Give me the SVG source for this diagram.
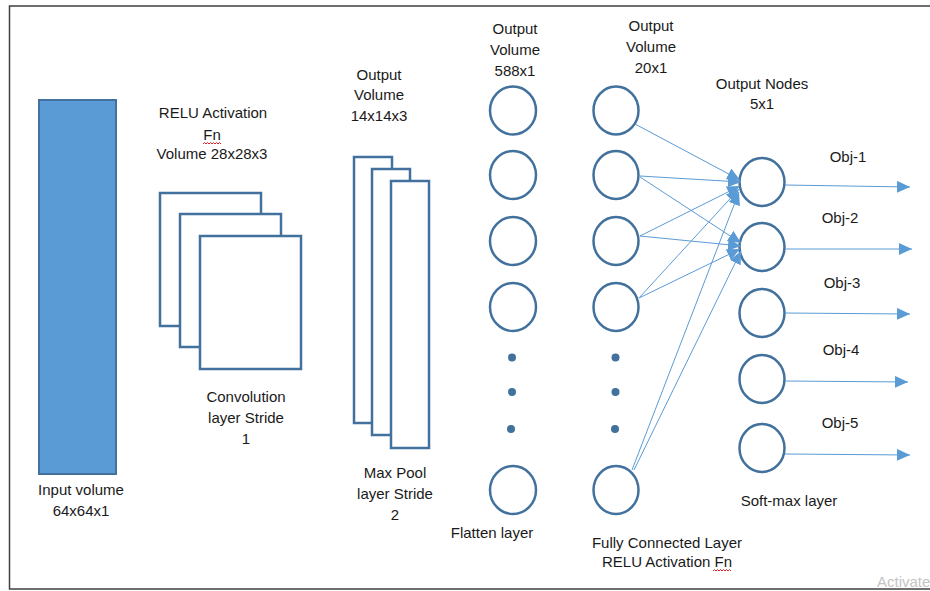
<svg xmlns="http://www.w3.org/2000/svg" width="930" height="591" viewBox="0 0 930 591">
  <style>
    .lbl { font-family: "Liberation Sans", Arial, sans-serif; font-size: 15px; fill: #1a1a1a; text-anchor: middle; }
    .sheet { fill: #ffffff; stroke: #41719c; stroke-width: 2.5; }
    .neuron { fill: #ffffff; stroke: #41719c; stroke-width: 2.5; }
    .dot { fill: #41719c; }
    .edge { stroke: #5b9bd5; stroke-width: 1; fill: none; marker-end: url(#tip); }
    .squiggle { fill: none; stroke: #e02020; stroke-width: 1; }
  </style>
  <defs>
    <marker id="tip" markerUnits="userSpaceOnUse" markerWidth="13" markerHeight="12" refX="13" refY="6" orient="auto">
      <path d="M0,0 L13,6 L0,12 z" fill="#5b9bd5"/>
    </marker>
  </defs>

  <rect width="930" height="591" fill="#ffffff"/>
  <!-- page frame -->
  <path d="M935,6 H9.5 V589 H935" fill="none" stroke="#404040" stroke-width="1.5"/>

  <!-- input volume -->
  <g id="input">
    <rect x="39" y="100" width="77" height="374" fill="#5b9bd5" stroke="#41719c" stroke-width="2"/>
    <text class="lbl" x="81" y="495">Input volume</text>
    <text class="lbl" x="81" y="516">64x64x1</text>
  </g>

  <!-- convolution layer -->
  <g id="conv">
    <rect class="sheet" x="160" y="193" width="101" height="133"/>
    <rect class="sheet" x="180" y="214" width="101" height="133"/>
    <rect class="sheet" x="200" y="236" width="101" height="133"/>
    <text class="lbl" x="213" y="118">RELU Activation</text>
    <text class="lbl" x="212" y="140">Fn</text>
    <path class="squiggle" d="M203,144 l1.5,-1.5 l1.5,1.5 l1.5,-1.5 l1.5,1.5 l1.5,-1.5 l1.5,1.5 l1.5,-1.5 l1.5,1.5 l1.5,-1.5 l1.5,1.5 l1.5,-1.5 l1.5,1.5"/>
    <text class="lbl" x="212" y="159">Volume 28x28x3</text>
    <text class="lbl" x="246" y="402">Convolution</text>
    <text class="lbl" x="246" y="423">layer Stride</text>
    <text class="lbl" x="246" y="444">1</text>
  </g>

  <!-- max pool layer -->
  <g id="pool">
    <rect class="sheet" x="354" y="157" width="38" height="266"/>
    <rect class="sheet" x="372" y="169" width="38" height="266"/>
    <rect class="sheet" x="391" y="181" width="38" height="267"/>
    <text class="lbl" x="379" y="80">Output</text>
    <text class="lbl" x="379" y="100">Volume</text>
    <text class="lbl" x="379" y="121">14x14x3</text>
    <text class="lbl" x="395" y="478">Max Pool</text>
    <text class="lbl" x="395" y="499">layer Stride</text>
    <text class="lbl" x="395" y="520">2</text>
  </g>

  <!-- flatten layer -->
  <g id="flatten">
    <ellipse class="neuron" cx="513" cy="110.5" rx="23" ry="24"/>
    <ellipse class="neuron" cx="513" cy="175" rx="23" ry="24"/>
    <ellipse class="neuron" cx="513" cy="241" rx="23" ry="24"/>
    <ellipse class="neuron" cx="513" cy="307" rx="23" ry="24"/>
    <circle class="dot" cx="512" cy="357.5" r="4"/>
    <circle class="dot" cx="512" cy="392" r="4"/>
    <circle class="dot" cx="511" cy="429" r="4"/>
    <ellipse class="neuron" cx="513" cy="490" rx="23" ry="24"/>
    <text class="lbl" x="515" y="34">Output</text>
    <text class="lbl" x="515" y="55">Volume</text>
    <text class="lbl" x="515" y="76">588x1</text>
    <text class="lbl" x="492" y="538">Flatten layer</text>
  </g>

  <!-- fully connected layer -->
  <g id="fully-connected">
    <ellipse class="neuron" cx="616" cy="110.5" rx="22.5" ry="24"/>
    <ellipse class="neuron" cx="616" cy="175" rx="22.5" ry="24"/>
    <ellipse class="neuron" cx="616" cy="241" rx="22.5" ry="24"/>
    <ellipse class="neuron" cx="616" cy="307" rx="22.5" ry="24"/>
    <circle class="dot" cx="615.5" cy="357.5" r="4"/>
    <circle class="dot" cx="615.5" cy="392" r="4"/>
    <circle class="dot" cx="615" cy="429" r="4"/>
    <ellipse class="neuron" cx="616" cy="490" rx="22.5" ry="24"/>
    <text class="lbl" x="651" y="31">Output</text>
    <text class="lbl" x="651" y="52">Volume</text>
    <text class="lbl" x="651" y="73">20x1</text>
    <text class="lbl" x="667" y="548">Fully Connected Layer</text>
    <text class="lbl" x="667" y="567">RELU Activation Fn</text>
    <path class="squiggle" d="M713,571 l1.5,-1.5 l1.5,1.5 l1.5,-1.5 l1.5,1.5 l1.5,-1.5 l1.5,1.5 l1.5,-1.5 l1.5,1.5 l1.5,-1.5 l1.5,1.5 l1.5,-1.5 l1.5,1.5"/>
  </g>

  <!-- soft-max output nodes -->
  <g id="softmax">
    <ellipse class="neuron" cx="762" cy="182" rx="22.5" ry="24"/>
    <ellipse class="neuron" cx="762" cy="247" rx="22.5" ry="24"/>
    <ellipse class="neuron" cx="762" cy="313" rx="22.5" ry="24"/>
    <ellipse class="neuron" cx="762" cy="379" rx="22.5" ry="24"/>
    <ellipse class="neuron" cx="762" cy="448" rx="22.5" ry="24"/>
    <text class="lbl" x="762" y="89">Output Nodes</text>
    <text class="lbl" x="762" y="109">5x1</text>
    <text class="lbl" x="848" y="162">Obj-1</text>
    <text class="lbl" x="840" y="223">Obj-2</text>
    <text class="lbl" x="842" y="288">Obj-3</text>
    <text class="lbl" x="841" y="355">Obj-4</text>
    <text class="lbl" x="840" y="428">Obj-5</text>
    <text class="lbl" x="789" y="506">Soft-max layer</text>
  </g>

  <!-- connectors -->
  <g id="connectors">
    <line class="edge" x1="635" y1="124" x2="740" y2="180"/>
    <line class="edge" x1="640" y1="176" x2="741" y2="182"/>
    <line class="edge" x1="640" y1="177" x2="741" y2="243"/>
    <line class="edge" x1="640" y1="236" x2="740" y2="186"/>
    <line class="edge" x1="640" y1="236" x2="741" y2="246"/>
    <line class="edge" x1="639" y1="298" x2="739" y2="189"/>
    <line class="edge" x1="639" y1="298" x2="740" y2="249"/>
    <line class="edge" x1="632" y1="470" x2="739" y2="192"/>
    <line class="edge" x1="634" y1="470" x2="741" y2="251"/>

    <line class="edge" x1="785" y1="185" x2="910" y2="187"/>
    <line class="edge" x1="785" y1="249" x2="912" y2="249"/>
    <line class="edge" x1="785" y1="313" x2="910" y2="314"/>
    <line class="edge" x1="785" y1="381" x2="908" y2="382"/>
    <line class="edge" x1="785" y1="454" x2="910" y2="455"/>
  </g>

  <text x="877" y="587" font-family="Liberation Sans, Arial, sans-serif" font-size="15" fill="#c4c4c4">Activate</text>
</svg>
